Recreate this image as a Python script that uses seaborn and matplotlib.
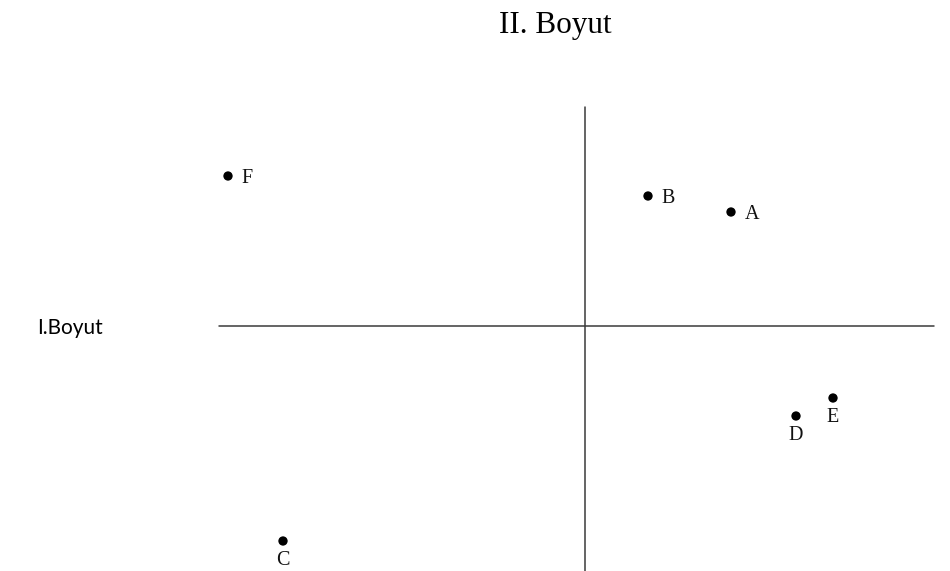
import pandas as pd
import matplotlib
matplotlib.use("Agg")
import matplotlib.pyplot as plt
import seaborn as sns

# Point coordinates on the two dimensions (origin where the axes cross)
labels = ["A", "B", "C", "D", "E", "F"]
dim1 = [1.46, 0.63, -3.02, 2.11, 2.48, -3.57]
dim2 = [1.14, 1.30, -2.15, -0.90, -0.72, 1.50]
# where each label sits relative to its point
label_side = ["right", "right", "below", "below", "below", "right"]

data = pd.DataFrame({"label": labels, "x": dim1, "y": dim2, "side": label_side})

sns.set_style("white")
fig = plt.figure(figsize=(9.5, 5.71), dpi=100)
ax = fig.add_axes([0, 0, 1, 1])
ax.set_xlim(-5.85, 3.65)
ax.set_ylim(-2.45, 3.26)
ax.axis("off")

# the two crossing axis lines
ax.plot([-3.66, 3.49], [0, 0], color="#3a3a3a", lw=1.1)
ax.plot([0, 0], [-2.45, 2.19], color="#3a3a3a", lw=1.1)

sns.scatterplot(data=data, x="x", y="y", ax=ax, color="black", s=45,
                edgecolor="none", legend=False, zorder=3)

for _, row in data.iterrows():
    if row["side"] == "right":
        ax.annotate(row["label"], (row["x"], row["y"]), xytext=(10, -1.5),
                    textcoords="offset points", ha="left", va="center",
                    family="Liberation Serif", fontsize=14.5, color="#111111")
    else:
        ax.annotate(row["label"], (row["x"], row["y"]), xytext=(0, -7.5),
                    textcoords="offset points", ha="center", va="top",
                    family="Liberation Serif", fontsize=14.5, color="#111111")

fig.text(555 / 950, 1 - 33 / 571, "II. Boyut", ha="center", va="baseline",
         family="Liberation Serif", fontsize=22.5, color="black")
fig.text(37 / 950, 1 - 334 / 571, "I.Boyut", ha="left", va="baseline",
         family="Lato", fontsize=15, color="black")

fig.savefig("out.png", dpi=100)
